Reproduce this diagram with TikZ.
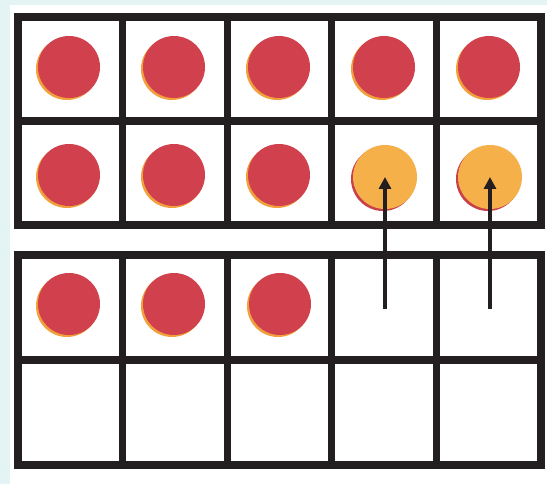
\documentclass[tikz,border=0pt]{standalone}
\usetikzlibrary{arrows.meta}
\definecolor{bgcyan}{HTML}{E4F3F3}
\definecolor{frameline}{HTML}{231F20}
\definecolor{counterred}{HTML}{D1404D}
\definecolor{counterorange}{HTML}{F5B04A}
\definecolor{shadeorange}{HTML}{F2A03C}
\definecolor{shadered}{HTML}{C8404A}
\tikzset{
  gridline/.style={draw=frameline, line width=7.2pt, line cap=rect},
  redchip/.style={circle, minimum size=62pt, inner sep=0pt, fill=counterred,
    preaction={fill=shadeorange, transform canvas={shift={(-2pt,-2pt)}}}},
  orangechip/.style={circle, minimum size=64pt, inner sep=0pt, fill=counterorange,
    preaction={fill=shadered, transform canvas={shift={(-2pt,-2pt)}}}},
  movearrow/.style={draw=frameline, line width=3.4pt, -{Triangle[length=12pt,width=12pt]}},
}
\begin{document}
\begin{tikzpicture}[x=1pt,y=-1pt]
\useasboundingbox (0,0) rectangle (547,484);
\fill[bgcyan] (0,0) rectangle (547,484);
\fill[white] (10,5) rectangle (547,484);
% top ten-frame
\draw[gridline] (18,17) rectangle (541,225);
\draw[gridline] (18,121) -- (541,121);
\foreach \x in {122.6,227.2,331.8,436.4} \draw[gridline] (\x,17) -- (\x,225);
% bottom ten-frame
\draw[gridline] (18,255) rectangle (541,465);
\draw[gridline] (18,360) -- (541,360);
\foreach \x in {122.6,227.2,331.8,436.4} \draw[gridline] (\x,255) -- (\x,465);
% counters top frame row 1
\node[redchip] (r11) at (69,67) {};
\node[redchip] (r12) at (174,67) {};
\node[redchip] (r13) at (279,67) {};
\node[redchip] (r14) at (384,67) {};
\node[redchip] (r15) at (489,67) {};
% row 2
\node[redchip] (r21) at (69,175) {};
\node[redchip] (r22) at (174,175) {};
\node[redchip] (r23) at (279,175) {};
\node[orangechip] (o24) at (385,177) {};
\node[orangechip] (o25) at (490,177) {};
% bottom frame
\node[redchip] (b11) at (69,304) {};
\node[redchip] (b12) at (174,304) {};
\node[redchip] (b13) at (280,304) {};
% arrows
\coordinate (s24) at (385,309);
\coordinate (s25) at (490,309);
\draw[movearrow] (s24) -- (o24.center);
\draw[movearrow] (s25) -- (o25.center);
\end{tikzpicture}
\end{document}
